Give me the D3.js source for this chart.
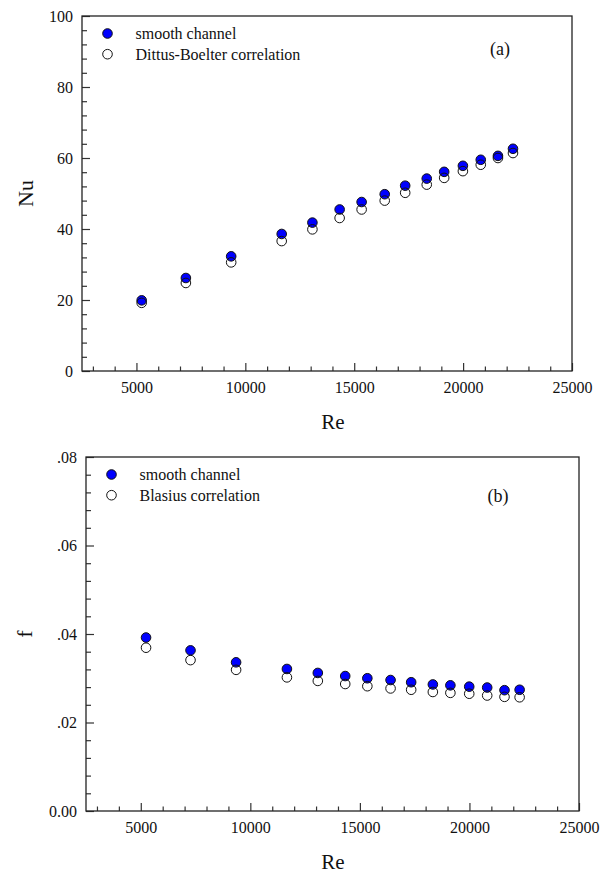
<html>
<head>
<style>
  body { margin: 0; background: #fff; }
  svg text { font-family: "Liberation Serif", "Times New Roman", serif !important; fill: #111; }
  .frame { fill: none; stroke: #222; stroke-width: 1.3; }
  .axis path { display: none; }
  .axis line { stroke: #333; stroke-width: 1.2; }
  .axis text { font-size: 16px; }
</style>
<script src="https://d3js.org/d3.v7.min.js"></script>
</head>
<body>
<svg width="611" height="873"></svg>
<script>
// Reynolds numbers (shared by both panels)
var re = [5240, 7270, 9350, 11670, 13080, 14330, 15340, 16400, 17340, 18330, 19130, 19990, 20810, 21600, 22290];

// panel (a)
var nuSmooth = [19.9, 26.2, 32.3, 38.6, 41.8, 45.5, 47.6, 49.8, 52.2, 54.2, 56.1, 57.8, 59.5, 60.6, 62.6];
var nuDittus = [19.2, 24.8, 30.6, 36.6, 39.9, 43.1, 45.5, 48.0, 50.2, 52.5, 54.4, 56.3, 58.1, 60.0, 61.4];

// panel (b)
var fSmooth = [0.0392, 0.0363, 0.0336, 0.0321, 0.0312, 0.0305, 0.0300, 0.0296, 0.0291, 0.0286, 0.0284, 0.0281, 0.0279, 0.0273, 0.0274];
var fBlasius = [0.0369, 0.0341, 0.0319, 0.0302, 0.0294, 0.0287, 0.0282, 0.0277, 0.0274, 0.0269, 0.0267, 0.0265, 0.0261, 0.0258, 0.0257];

var xTicks = [5000, 10000, 15000, 20000, 25000];
var xTickLabels = ["5000", "10000", "15000", "20000", "25000"];
var nuTicks = [0, 20, 40, 60, 80, 100];
var nuTickLabels = ["0", "20", "40", "60", "80", "100"];
var fTicks = [0, 0.02, 0.04, 0.06, 0.08];
var fTickLabels = ["0.00", ".02", ".04", ".06", ".08"];

var serif = "'Liberation Serif', 'Times New Roman', serif";
var svg = d3.select("svg");

function panel(box, yDomain, yTicks, yLabels, yMinorStep, yTitle, tag, filled, open, legend) {
  var xs = d3.scaleLinear().domain([2500, 25000]).range([box.left, box.right]);
  var ys = d3.scaleLinear().domain(yDomain).range([box.bottom, box.top]);
  var g = svg.append("g");

  // minor ticks
  g.append("g").attr("class", "axis")
    .attr("transform", "translate(0," + box.bottom + ")")
    .call(d3.axisBottom(xs).tickValues(d3.range(3000, 25000, 1000).filter(v => v % 5000 != 0))
      .tickSize(-4.5).tickFormat(""));
  g.append("g").attr("class", "axis")
    .attr("transform", "translate(" + box.left + ",0)")
    .call(d3.axisLeft(ys).tickValues(d3.range(yDomain[0], yDomain[1], yMinorStep).filter(v => !yTicks.some(t => Math.abs(t - v) < yMinorStep / 10)))
      .tickSize(-5).tickFormat(""));

  // major ticks
  g.append("g").attr("class", "axis")
    .attr("transform", "translate(0," + box.bottom + ")")
    .call(d3.axisBottom(xs).tickValues(xTicks).tickSize(-8).tickPadding(11)
      .tickFormat((d, i) => xTickLabels[i]))
    .attr("font-family", serif).attr("font-size", 16);
  g.append("g").attr("class", "axis")
    .attr("transform", "translate(" + box.left + ",0)")
    .call(d3.axisLeft(ys).tickValues(yTicks).tickSize(-8).tickPadding(9)
      .tickFormat((d, i) => yLabels[i]))
    .attr("font-family", serif).attr("font-size", 16);

  g.append("rect").attr("class", "frame")
    .attr("x", box.left).attr("y", box.top)
    .attr("width", box.right - box.left).attr("height", box.bottom - box.top);

  // axis titles
  g.append("text").attr("x", 333).attr("y", box.bottom + 58)
    .attr("text-anchor", "middle").attr("font-family", serif).style("font-size", "21px").text("Re");
  g.append("text")
    .attr("transform", "translate(" + box.titleX + "," + ((box.top + box.bottom) / 2) + ") rotate(-90)")
    .attr("text-anchor", "middle").attr("font-family", serif).style("font-size", "22px").text(yTitle);

  g.append("text").attr("x", box.tagX).attr("y", box.top + box.tagDy)
    .attr("text-anchor", "middle").attr("font-family", serif).style("font-size", "18px").text(tag);

  // data markers
  g.selectAll(".filled").data(re).enter().append("circle")
    .attr("cx", d => xs(d)).attr("cy", (d, i) => ys(filled[i])).attr("r", 4.8)
    .attr("fill", "#0000ff").attr("stroke", "#111").attr("stroke-width", 1);
  g.selectAll(".open").data(re).enter().append("circle")
    .attr("cx", d => xs(d)).attr("cy", (d, i) => ys(open[i])).attr("r", 4.8)
    .attr("fill", "none").attr("stroke", "#111").attr("stroke-width", 1);

  // legend
  var lg = g.append("g");
  lg.append("circle").attr("cx", box.left + 25.5).attr("cy", box.top + 17.5).attr("r", 4.8)
    .attr("fill", "#0000ff").attr("stroke", "#111");
  lg.append("circle").attr("cx", box.left + 25.5).attr("cy", box.top + 38.2).attr("r", 4.8)
    .attr("fill", "none").attr("stroke", "#111");
  lg.append("text").attr("x", box.left + 53.5).attr("y", box.top + 23)
    .attr("font-family", serif).style("font-size", "16px").text(legend[0]);
  lg.append("text").attr("x", box.left + 53.5).attr("y", box.top + 43.5)
    .attr("font-family", serif).style("font-size", "16px").text(legend[1]);
}

panel({left: 82, top: 16, right: 572, bottom: 371, titleX: 33, tagX: 500, tagDy: 39}, [0, 100], nuTicks, nuTickLabels, 4,
  "Nu", "(a)", nuSmooth, nuDittus, ["smooth channel", "Dittus-Boelter correlation"]);
panel({left: 86, top: 457, right: 579, bottom: 811, titleX: 32, tagX: 498, tagDy: 45}, [0, 0.08], fTicks, fTickLabels, 0.004,
  "f", "(b)", fSmooth, fBlasius, ["smooth channel", "Blasius correlation"]);
</script>
</body>
</html>
